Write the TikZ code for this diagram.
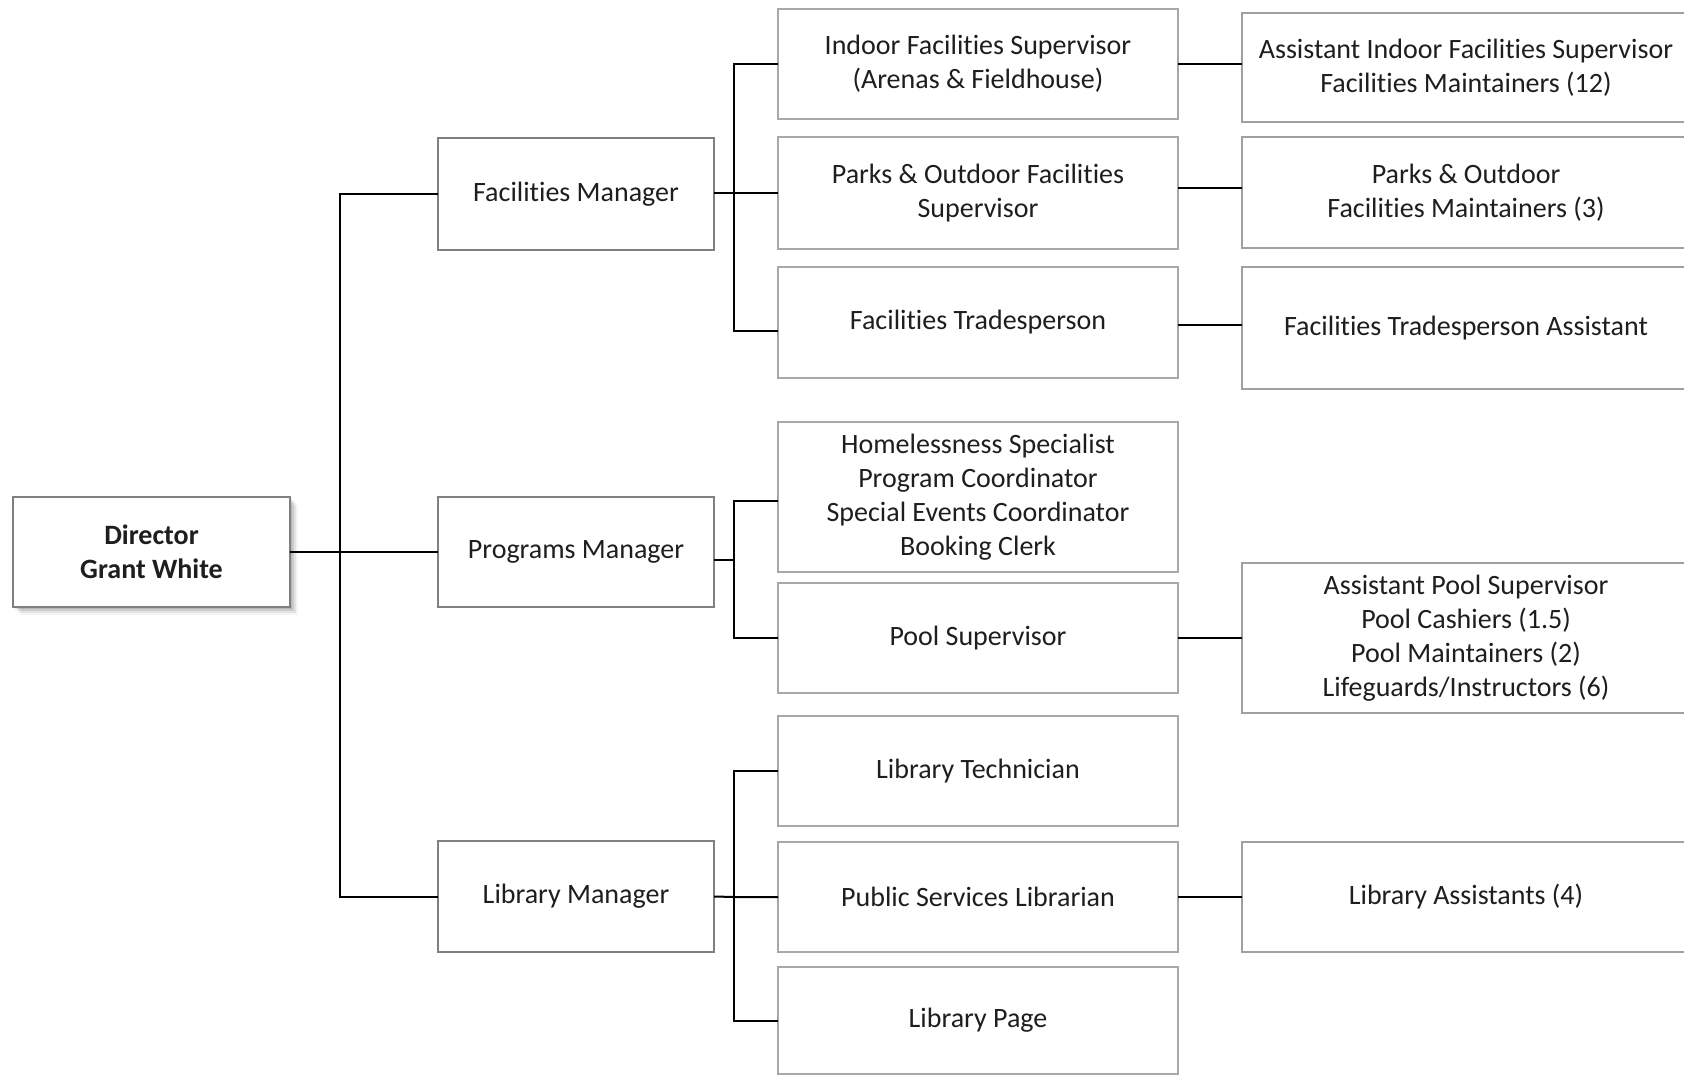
\documentclass[tikz,border=0pt]{standalone}
\usepackage{fontspec}
\setmainfont{Carlito}[Ligatures={NoCommon}]
\definecolor{txt}{HTML}{1E1E1E}
\definecolor{mgrline}{HTML}{808080}
\definecolor{supline}{HTML}{A8A8A8}
\definecolor{rline}{HTML}{A0A0A0}
\newcommand\orgbox[7]{\node[#1,minimum width={(#5-#3)*0.5pt},minimum height={(#6-#4)*0.5pt}] (#2) at ({(#3+#5)/2},{(#4+#6)/2}) {#7};}
\tikzset{
  basebox/.style={rectangle, inner sep=0pt, outer sep=0pt, fill=white, align=center,
    text=txt, font=\fontsize{14}{17}\selectfont},
  dirbox/.style={basebox, draw=mgrline, line width=1.4pt, font=\fontsize{14}{17}\selectfont\bfseries,
    preaction={fill=black, opacity=0.10, transform canvas={xshift=1.2pt, yshift=-1.2pt}},
    preaction={fill=black, opacity=0.10, transform canvas={xshift=2.2pt, yshift=-2.2pt}},
    preaction={fill=black, opacity=0.07, transform canvas={xshift=3.2pt, yshift=-3.2pt}},
    preaction={fill=black, opacity=0.04, transform canvas={xshift=4.2pt, yshift=-4.2pt}}},
  mgrbox/.style={basebox, draw=mgrline, line width=1.4pt,
    preaction={fill=black, opacity=0.10, transform canvas={xshift=0.6pt, yshift=-0.6pt}}},
  supbox/.style={basebox, draw=supline, line width=1.4pt},
  rbox/.style={basebox, draw=rline, line width=1.2pt},
  conn/.style={draw=black, line width=1pt}
}
\begin{document}
\begin{tikzpicture}[x=0.5pt,y=-0.5pt]
\useasboundingbox (0,0) rectangle (1684,1075);
\clip (0,0) rectangle (1684,1075);
\fill[white] (0,0) rectangle (1684,1075);

% director and managers
\orgbox{dirbox}{dir}{13}{497}{290}{607}{Director\\Grant White}
\orgbox{mgrbox}{fm}{438}{138}{714}{250}{Facilities Manager}
\orgbox{mgrbox}{pm}{438}{497}{714}{607}{Programs Manager}
\orgbox{mgrbox}{lm}{438}{841}{714}{952}{Library Manager}

% supervisors
\orgbox{supbox}{indoor}{778}{9}{1178}{119}{Indoor Facilities Supervisor\\(Arenas \& Fieldhouse)}
\orgbox{supbox}{parks}{778}{137}{1178}{249}{Parks \& Outdoor Facilities\\Supervisor}
\orgbox{supbox}{trades}{778}{267}{1178}{378}{Facilities Tradesperson}
\orgbox{supbox}{home}{778}{422}{1178}{572}{Homelessness Specialist\\Program Coordinator\\Special Events Coordinator\\Booking Clerk}
\orgbox{supbox}{poolsup}{778}{583}{1178}{693}{Pool Supervisor}
\orgbox{supbox}{libtech}{778}{716}{1178}{826}{Library Technician}
\orgbox{supbox}{public}{778}{842}{1178}{952}{Public Services Librarian}
\orgbox{supbox}{libpage}{778}{967}{1178}{1074}{Library Page}

% right column
\orgbox{rbox}{asstind}{1242}{13}{1690}{122}{Assistant Indoor Facilities Supervisor\\Facilities Maintainers (12)}
\orgbox{rbox}{parksmt}{1242}{137}{1690}{248}{Parks \& Outdoor\\Facilities Maintainers (3)}
\orgbox{rbox}{tradesasst}{1242}{267}{1690}{389}{Facilities Tradesperson Assistant}
\orgbox{rbox}{pool}{1242}{563}{1690}{713}{Assistant Pool Supervisor\\Pool Cashiers (1.5)\\Pool Maintainers (2)\\Lifeguards/Instructors (6)}
\orgbox{rbox}{libasst}{1242}{842}{1690}{952}{Library Assistants (4)}

% junction coordinates
\coordinate (t1) at (340,552);
\coordinate (b1) at (734,193);
\coordinate (b2) at (734,560);
\coordinate (b3) at (734,897);

% director trunk
\draw[conn] (dir.east) -- (pm.west);
\draw[conn] (fm.west) -| (t1) |- (lm.west);

% facilities branch
\draw[conn] (b1 -| fm.east) -- (b1) -- (parks.west);
\draw[conn] (indoor.west) -| (b1) |- ([yshift=-4.25pt]trades.west);

% programs branch
\draw[conn] ([yshift=-4pt]pm.east) -- (b2);
\draw[conn] ([yshift=-2pt]home.west) -| (b2) |- (poolsup.west);

% library branch
\draw[conn] (lm.east) -- (b3) -- (public.west);
\draw[conn] (libtech.west) -| (b3) |- (libpage.west);

% supervisor to staff
\draw[conn] (indoor.east) -- (indoor.east -| asstind.west);
\draw[conn] ([yshift=2.5pt]parks.east) -- ([yshift=2.5pt]parks.east -| parksmt.west);
\draw[conn] ([yshift=-1.25pt]trades.east) -- ([yshift=-1.25pt]trades.east -| tradesasst.west);
\draw[conn] (poolsup.east) -- (pool.west);
\draw[conn] (public.east) -- (libasst.west);
\end{tikzpicture}
\end{document}
